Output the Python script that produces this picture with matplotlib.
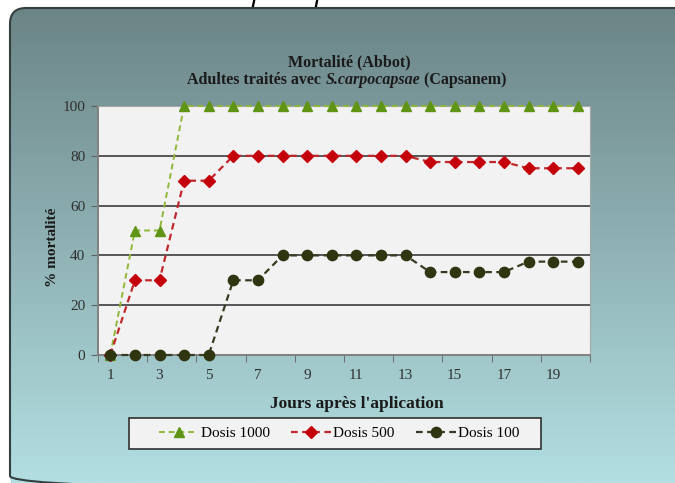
import numpy as np
import matplotlib.pyplot as plt
from matplotlib.patches import FancyBboxPatch, Rectangle

# Mortalité corrigée (Abbot) par jour et par dose
jours = list(range(1, 21))
dosis_1000 = [0, 50, 50] + [100] * 17
dosis_500 = [0, 30, 30, 70, 70, 80, 80, 80, 80, 80, 80, 80, 80,
             77.5, 77.5, 77.5, 77.5, 75, 75, 75]
dosis_100 = [0, 0, 0, 0, 0, 30, 30, 40, 40, 40, 40, 40, 40,
             33.3, 33.3, 33.3, 33.3, 37.5, 37.5, 37.5]
labels_series = ['Dosis 1000', 'Dosis 500', 'Dosis 100']
y_ticks = [0, 20, 40, 60, 80, 100]
x_labels = [1, 3, 5, 7, 9, 11, 13, 15, 17, 19]

W, H = 675, 483
serif = 'Liberation Serif'

fig = plt.figure(figsize=(W / 100, H / 100), dpi=100)
fig.patch.set_facecolor('white')

# fond de la diapositive : cadre arrondi avec dégradé vertical
bg = fig.add_axes([0, 0, 1, 1])
bg.set_xlim(0, W)
bg.set_ylim(H, 0)
bg.axis('off')

top = np.array([0x6a, 0x83, 0x85]) / 255
bot = np.array([0xb3, 0xdf, 0xe2]) / 255
t = np.linspace(0, 1, 256)[:, None, None]
grad = top * (1 - t) + bot * t
frame = FancyBboxPatch((10, 8), 720, 484, boxstyle='round,pad=0,rounding_size=16',
                       facecolor='none', edgecolor='#34403f', linewidth=1.5, zorder=3)
bg.add_patch(frame)
img = bg.imshow(grad, extent=(0, W, H, 0), aspect='auto', zorder=1)
img.set_clip_path(frame)

# cadre de la légende
bg.add_patch(Rectangle((129, 418), 412, 31, facecolor='#f2f2f2',
                       edgecolor='#303030', linewidth=1.2, zorder=4))

# titre de la diapositive, coupé en haut
fig.text(212 / W, 1.0, 'carpocapsae', family='Open Sans', style='italic',
         fontsize=21, va='baseline', ha='left', color='black')

# zone de traçage
x0, x1, y0, y1 = 98, 590, 106, 355
ax = fig.add_axes([x0 / W, 1 - y1 / H, (x1 - x0) / W, (y1 - y0) / H])
ax.set_facecolor('#f2f2f2')

ax.plot(jours, dosis_1000, linestyle=(0, (3, 2)), color='#8fb83a', linewidth=1.4,
        marker='^', markersize=7.5, markerfacecolor='#5f9414', markeredgecolor='#5f9414',
        clip_on=False, zorder=5, label=labels_series[0])
ax.plot(jours, dosis_500, linestyle=(0, (3, 2)), color='#c0282e', linewidth=1.6,
        marker='D', markersize=6.3, markerfacecolor='#c4000b', markeredgecolor='#c4000b',
        clip_on=False, zorder=5, label=labels_series[1])
ax.plot(jours, dosis_100, linestyle=(0, (3, 2)), color='#3a3a22', linewidth=1.6,
        marker='o', markersize=7.4, markerfacecolor='#2f3510', markeredgecolor='#2f3510',
        clip_on=False, zorder=5, label=labels_series[2])

ax.set_xlim(0.5, 20.5)
ax.set_ylim(0, 100)
ax.set_yticks(y_ticks)
ax.set_xticks(x_labels)
ax.set_xticks(np.arange(0.5, 21, 2), minor=True)
ax.tick_params(axis='x', which='major', length=0, pad=10)
ax.tick_params(axis='x', which='minor', length=5, color='#606060', direction='out')
ax.tick_params(axis='y', length=5, color='#606060', direction='out', pad=4)
for lab in ax.get_xticklabels() + ax.get_yticklabels():
    lab.set_family(serif)
    lab.set_fontsize(11)
    lab.set_color('#303030')

for v in y_ticks[1:-1]:
    ax.axhline(v, color='#4a4a4a', linewidth=1.3, zorder=1)

for side in ['left', 'bottom']:
    ax.spines[side].set_color('#808080')
    ax.spines[side].set_linewidth(1.4)
for side in ['right', 'top']:
    ax.spines[side].set_color('#a8a8a8')
    ax.spines[side].set_linewidth(0.8)

# titres et étiquettes d'axes
fig.text(53 / W, 1 - 247 / H, '% mortalité', family=serif, fontsize=11,
         fontweight='bold', rotation=90, ha='center', va='center', color='#1a1a1a')
fig.text(357 / W, 1 - 404 / H, "Jours après l'aplication", family=serif, fontsize=12.5,
         fontweight='bold', ha='center', va='center', color='#1a1a1a')
fig.text(349 / W, 1 - 66 / H, 'Mortalité (Abbot)', family=serif, fontsize=11.5,
         fontweight='bold', ha='center', va='baseline', color='#1a1a1a')

# deuxième ligne : morceaux posés sur la même ligne de base
pieces = [('Adultes traités avec ', 'normal'), ('S.carpocapsae', 'italic'),
          (' (Capsanem)', 'normal')]
renderer = fig.canvas.get_renderer()
texts = [fig.text(0, 1 - 84 / H, s, family=serif, fontsize=11.5, fontweight='bold',
                  style=st, ha='left', va='baseline', color='#1a1a1a')
         for s, st in pieces]
widths = [tx.get_window_extent(renderer).width for tx in texts]
xpos = 347 - sum(widths) / 2
for tx, w in zip(texts, widths):
    tx.set_x(xpos / W)
    xpos += w

handles, labels = ax.get_legend_handles_labels()
leg = fig.legend(handles, labels, loc='center', ncol=3,
                 bbox_to_anchor=(339 / W, 1 - 433.5 / H),
                 prop={'family': serif, 'size': 11}, frameon=False,
                 handlelength=2.6, handletextpad=0.15, columnspacing=1.4)

fig.savefig('out.png', dpi=100)
